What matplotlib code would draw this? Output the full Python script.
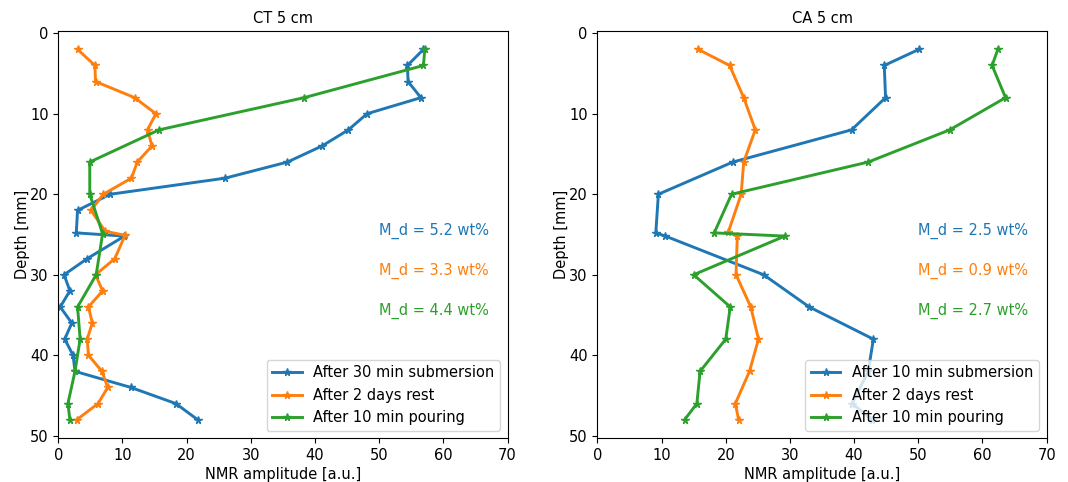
"""NMR moisture profiles for the CT and CA samples at 5 cm."""
import matplotlib
matplotlib.use("Agg")
import matplotlib.pyplot as plt

plt.rcParams["font.family"] = ["DejaVu Sans"]
plt.rcParams["font.size"] = 10.5

# CT 5 cm
ct_sub_depth = [2, 4, 6, 8, 10, 12, 14, 16, 18, 20, 22, 24.8, 25.2, 28, 30, 32,
                34, 36, 38, 40, 42, 44, 46, 48]
ct_sub_amp = [56.9, 54.4, 54.5, 56.5, 48.1, 45.2, 41.1, 35.7, 26.0, 8.1, 3.0,
              2.8, 10.3, 4.5, 0.9, 1.8, 0.3, 2.1, 1.0, 2.3, 2.6, 11.3, 18.3, 21.7]
ct_rest_depth = [2, 4, 6, 8, 10, 12, 14, 16, 18, 20, 22, 24.6, 25.1, 28, 30, 32,
                 34, 36, 38, 40, 42, 44, 46, 48]
ct_rest_amp = [3.0, 5.7, 5.8, 11.9, 15.2, 13.9, 14.6, 12.3, 11.4, 7.0, 5.1,
               7.3, 10.4, 8.8, 5.8, 6.9, 4.7, 5.3, 4.5, 4.7, 6.8, 7.7, 6.2, 2.9]
ct_pour_depth = [2, 4, 8, 12, 16, 20, 24.9, 30, 34, 38, 42, 46, 48]
ct_pour_amp = [57.1, 56.9, 38.3, 15.7, 4.9, 4.9, 6.9, 5.9, 3.0, 3.4, 2.6, 1.5, 1.8]

# CA 5 cm
ca_sub_depth = [2, 4, 8, 12, 16, 20, 24.8, 25.2, 30, 34, 38, 42, 46, 48]
ca_sub_amp = [50.1, 44.7, 44.9, 39.6, 21.1, 9.5, 9.1, 10.6, 25.9, 33.0, 43.0,
              42.2, 39.7, 42.8]
ca_rest_depth = [2, 4, 8, 12, 16, 20, 24.7, 25.2, 30, 34, 38, 42, 46, 48]
ca_rest_amp = [15.7, 20.6, 22.8, 24.6, 22.8, 22.4, 20.4, 21.8, 21.6, 23.9, 25.1,
               23.7, 21.5, 22.0]
ca_pour_depth = [2, 4, 8, 12, 16, 20, 24.8, 25.2, 30, 34, 38, 42, 46, 48]
ca_pour_amp = [62.4, 61.5, 63.6, 54.9, 42.2, 20.9, 18.2, 29.2, 15.0, 20.7, 20.0,
               16.0, 15.5, 13.6]

ct_md = [5.2, 3.3, 4.4]
ca_md = [2.5, 0.9, 2.7]

COL = ["#1f77b4", "#ff7f0e", "#2ca02c"]

panels = [
    ("CT 5 cm", "After 30 min submersion",
     [(ct_sub_depth, ct_sub_amp), (ct_rest_depth, ct_rest_amp), (ct_pour_depth, ct_pour_amp)],
     ct_md),
    ("CA 5 cm", "After 10 min submersion",
     [(ca_sub_depth, ca_sub_amp), (ca_rest_depth, ca_rest_amp), (ca_pour_depth, ca_pour_amp)],
     ca_md),
]

fig, axes = plt.subplots(1, 2, figsize=(10.68, 4.82), dpi=100)
fig.subplots_adjust(left=0.0546, right=0.980, bottom=0.091, top=0.936, wspace=0.2)

for ax, (title, first_label, series, md) in zip(axes, panels):
    labels = [first_label, "After 2 days rest", "After 10 min pouring"]
    for (d, a), lab, c in zip(series, labels, COL):
        ax.plot(a, d, "-*", color=c, lw=2.1, ms=5.5, label=lab)
    for i, (v, c) in enumerate(zip(md, COL)):
        ax.text(50, 25 + 5 * i, f"M_d = {v} wt%", color=c)
    ax.set_xlim(0, 70)
    ax.set_ylim(50.3, -0.3)
    ax.set_title(title, fontsize=10.5)
    ax.set_xlabel("NMR amplitude [a.u.]", labelpad=3)
    ax.set_ylabel("Depth [mm]", labelpad=0)
    ax.legend(loc="lower right")

plt.savefig("out.png", dpi=100)
